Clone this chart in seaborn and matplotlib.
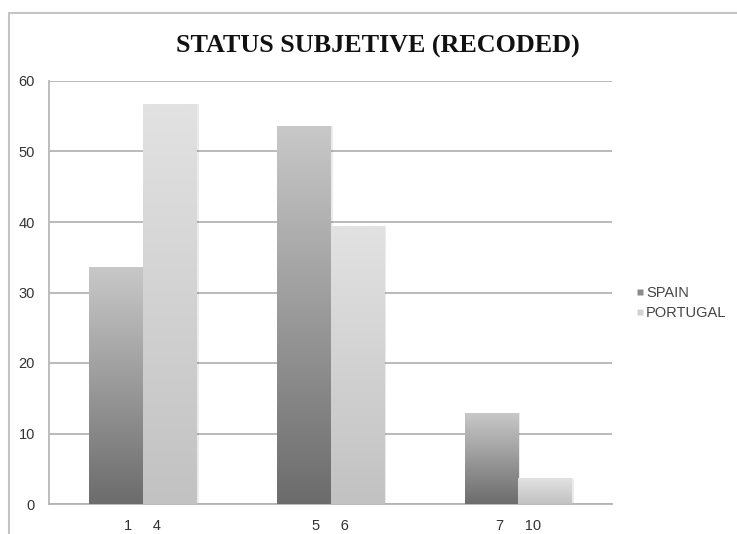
import numpy as np
import pandas as pd
import seaborn as sns
import matplotlib.pyplot as plt
from matplotlib.colors import to_rgb
from matplotlib.lines import Line2D
from matplotlib.patches import Rectangle

# Subjective status (recoded), share of respondents per band
categories = ["1     4", "5     6", "7     10"]
countries = ["SPAIN", "PORTUGAL"]
spain = [33.5, 53.6, 12.9]
portugal = [56.7, 39.4, 3.6]

df = pd.DataFrame({
    "band": categories * 2,
    "country": ["SPAIN"] * 3 + ["PORTUGAL"] * 3,
    "value": spain + portugal,
})

sns.set_theme(style="white")
plt.rcParams["font.family"] = ["Liberation Sans", "DejaVu Sans"]

W, H = 737, 534
fig = plt.figure(figsize=(W / 100, H / 100), dpi=100)
ax = fig.add_axes([49 / W, (H - 504) / H, (612 - 49) / W, (504 - 81) / H])

flat = {"SPAIN": "#8c8c8c", "PORTUGAL": "#d2d2d2"}
sns.barplot(data=df, x="band", y="value", hue="country", hue_order=countries,
            palette=flat, width=0.57, gap=0, ax=ax, legend=False,
            edgecolor="none", linewidth=0)

ax.set_xlim(-0.5, 2.5)
ax.set_ylim(0, 60)
ax.set_yticks(range(0, 61, 10))
ax.yaxis.grid(True, color="#b4b4b4", linewidth=1.3)
ax.set_axisbelow(True)
ax.set_xlabel("")
ax.set_ylabel("")
for side in ["top", "right"]:
    ax.spines[side].set_visible(False)
ax.spines["left"].set_color("#b8b8b8")
ax.spines["left"].set_linewidth(1.3)
ax.spines["bottom"].set_color("#b4b4b4")
ax.spines["bottom"].set_linewidth(1.3)
ax.tick_params(axis="both", length=0, labelsize=10.5, colors="#333333")
ax.tick_params(axis="y", pad=10)
ax.tick_params(axis="x", pad=11)

# vertical gray gradients: darker at the base, lighter at the top
ramps = {"SPAIN": ("#6c6c6c", "#c8c8c8"), "PORTUGAL": ("#c2c2c2", "#e2e2e2")}
bars = [p for p in ax.patches if isinstance(p, Rectangle) and p.get_height() > 0]
bars = sorted(bars, key=lambda p: p.get_x())
for i, p in enumerate(bars):
    key = countries[i % 2]
    lo, hi = [np.array(to_rgb(c)) for c in ramps[key]]
    t = np.linspace(1, 0, 128)[:, None, None]
    img = np.repeat(lo + (hi - lo) * t, 2, axis=1)
    x0, y0, w, h = p.get_x(), p.get_y(), p.get_width(), p.get_height()
    # soft shadow on the right side
    ax.add_patch(Rectangle((x0 + w, y0), 0.012, h, color="#000000", alpha=0.08,
                           linewidth=0, zorder=2.5))
    ax.imshow(img, extent=(x0, x0 + w, y0, y0 + h), aspect="auto",
              interpolation="bilinear", zorder=3)
    p.set_visible(False)
ax.set_xlim(-0.5, 2.5)
ax.set_ylim(0, 60)

handles = [Line2D([], [], marker="s", linestyle="none", markersize=4.5,
                  markerfacecolor=flat[c], markeredgecolor="none") for c in countries]
ax.legend(handles, countries, loc="center left",
          bbox_to_anchor=(1.02, 0.475), frameon=False, fontsize=10.5,
          handlelength=0.5, handletextpad=0.15, labelspacing=0.45,
          labelcolor="#444444")

fig.text(378 / W, 1 - 46 / H, "STATUS SUBJETIVE (RECODED)", ha="center", va="center",
         fontsize=18.8, fontweight="bold", family=["Liberation Serif", "DejaVu Serif"],
         color="#111111")

# outer frame of the chart area
fig.add_artist(Line2D([9 / W, 9 / W], [0, 1 - 13 / H], color="#c4c4c4", linewidth=1.5,
                      transform=fig.transFigure))
fig.add_artist(Line2D([9 / W, 1], [1 - 13 / H, 1 - 13 / H], color="#c4c4c4",
                      linewidth=1.5, transform=fig.transFigure))

fig.savefig("out.png", dpi=100)
